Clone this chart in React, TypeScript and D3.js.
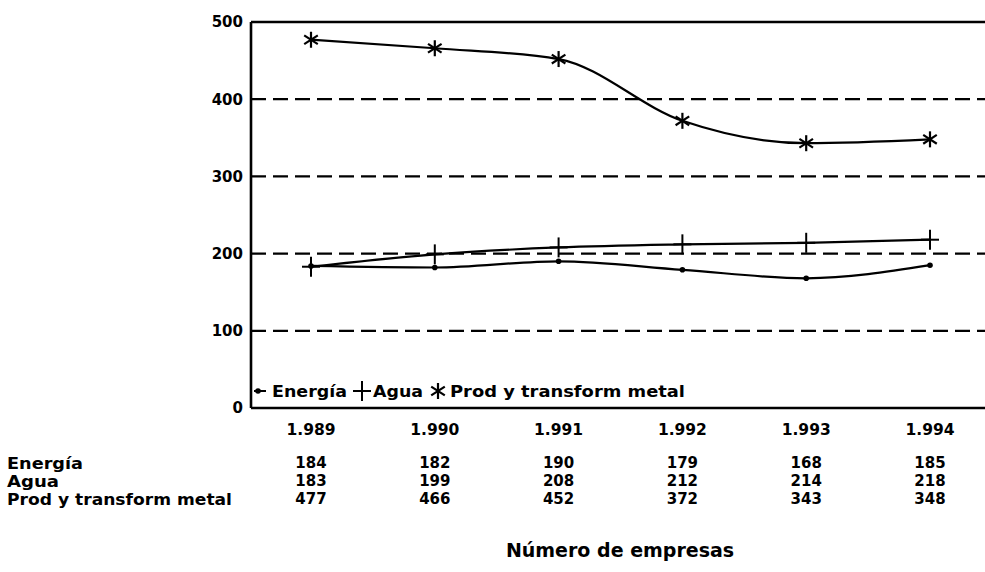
import React from "react";
import * as d3 from "d3";

const years = ["1.989", "1.990", "1.991", "1.992", "1.993", "1.994"];
const energia = [184, 182, 190, 179, 168, 185];
const agua = [183, 199, 208, 212, 214, 218];
const prod = [477, 466, 452, 372, 343, 348];
const seriesNames = ["Energía", "Agua", "Prod y transform metal"];
const yTicks = [0, 100, 200, 300, 400, 500];
const gridTicks = [100, 200, 300, 400];
const title = "Número de empresas";

const W = 985;
const H = 572;
const left = 251;
const right = 985;
const top = 22;
const bottom = 408;

export default function App() {
  const x = d3.scalePoint<string>().domain(years).range([311, 930]);
  const y = d3.scaleLinear().domain([0, 500]).range([bottom, top]);
  const line = d3
    .line<number>()
    .x((_, i) => x(years[i]) as number)
    .y((d) => y(d))
    .curve(d3.curveMonotoneX);
  const font = "'DejaVu Sans', sans-serif";
  const all = [energia, agua, prod];

  const marker = (k: number, cx: number, cy: number, key: string) => {
    if (k === 0) return <circle key={key} cx={cx} cy={cy} r={2.8} fill="#000" />;
    if (k === 1)
      return (
        <g key={key} stroke="#000" strokeWidth={2}>
          <line x1={cx - 9} x2={cx + 9} y1={cy} y2={cy} />
          <line x1={cx} x2={cx} y1={cy - 10} y2={cy + 10} />
        </g>
      );
    const r = 8;
    return (
      <g key={key} stroke="#000" strokeWidth={2.2}>
        <line x1={cx} x2={cx} y1={cy - r} y2={cy + r} />
        <line x1={cx - r * 0.85} x2={cx + r * 0.85} y1={cy - r * 0.55} y2={cy + r * 0.55} />
        <line x1={cx - r * 0.85} x2={cx + r * 0.85} y1={cy + r * 0.55} y2={cy - r * 0.55} />
      </g>
    );
  };

  const rowY = [463, 481, 499];
  const rowLen = [76, 52, 225];

  return (
    <svg width={W} height={H} style={{ position: "absolute", left: 0, top: 0 }} fontFamily={font}>
      <rect width={W} height={H} fill="#fff" />
      {gridTicks.map((t) => (
        <line key={t} x1={left} x2={right} y1={y(t)} y2={y(t)} stroke="#000" strokeWidth={2.2} strokeDasharray="15 7" />
      ))}
      <line x1={left} x2={right} y1={y(500)} y2={y(500)} stroke="#000" strokeWidth={2.4} />
      <line x1={left} x2={left} y1={top} y2={bottom} stroke="#000" strokeWidth={2.6} />
      <line x1={left} x2={right} y1={bottom} y2={bottom} stroke="#000" strokeWidth={2.6} />
      {yTicks.map((t) => (
        <text key={t} x={left - 8} y={y(t)} dy="0.36em" textAnchor="end" fontSize={15} fontWeight="bold">
          {t}
        </text>
      ))}
      {all.map((s, k) => (
        <g key={k}>
          <path d={line(s) as string} fill="none" stroke="#000" strokeWidth={2.2} />
          {s.map((v, i) => marker(k, x(years[i]) as number, y(v), `${k}-${i}`))}
        </g>
      ))}
      {/* legend */}
      <g fontSize={16.5} fontWeight="bold">
        <line x1={254} x2={266} y1={391} y2={391} stroke="#000" strokeWidth={2} />
        {marker(0, 258, 391, "lg0")}
        <text x={272} y={391} dy="0.36em" textLength={75} lengthAdjust="spacingAndGlyphs">{seriesNames[0]}</text>
        {marker(1, 362, 391, "lg1")}
        <text x={373} y={391} dy="0.36em" textLength={50} lengthAdjust="spacingAndGlyphs">{seriesNames[1]}</text>
        {marker(2, 438, 391, "lg2")}
        <text x={450} y={391} dy="0.36em" textLength={235} lengthAdjust="spacingAndGlyphs">
          {seriesNames[2]}
        </text>
      </g>
      {years.map((yr) => (
        <text key={yr} x={x(yr)} y={429} dy="0.36em" textAnchor="middle" fontSize={15.5} fontWeight="bold">
          {yr}
        </text>
      ))}
      {all.map((s, k) => (
        <g key={k} fontWeight="bold">
          <text x={7} y={rowY[k]} dy="0.36em" fontSize={15.5} textLength={rowLen[k]} lengthAdjust="spacingAndGlyphs">
            {seriesNames[k]}
          </text>
          {s.map((v, i) => (
            <text key={i} x={x(years[i])} y={rowY[k]} dy="0.36em" textAnchor="middle" fontSize={15}>
              {v}
            </text>
          ))}
        </g>
      ))}
      <text x={620} y={550} dy="0.36em" textAnchor="middle" fontSize={19} fontWeight="bold">
        {title}
      </text>
    </svg>
  );
}
